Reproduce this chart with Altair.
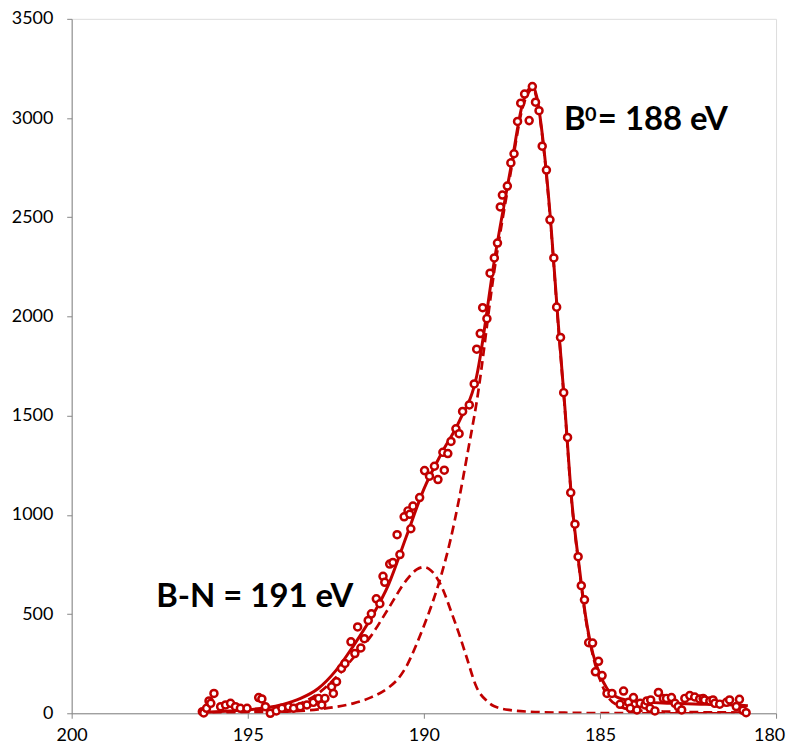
import altair as alt
import pandas as pd

# Measured spectrum (binding energy eV, counts)
pts_ev = [196.29, 196.25, 196.17, 196.10, 196.05, 195.96, 195.77, 195.63, 195.49, 195.35, 195.21, 195.02,
          194.69, 194.60, 194.50, 194.36, 194.19, 194.03, 193.84, 193.70, 193.51, 193.32, 193.14, 192.99,
          192.90, 192.81, 192.62, 192.57, 192.48, 192.34, 192.24, 192.07, 191.96, 191.88, 191.79, 191.69,
          191.58, 191.49, 191.35, 191.25, 191.16, 191.11, 190.97, 190.88, 190.76, 190.68, 190.56, 190.45,
          190.40, 190.37, 190.31, 190.12, 189.98, 189.84, 189.70, 189.60, 189.46, 189.42, 189.32, 189.23,
          189.09, 189.00, 188.90, 188.71, 188.57, 188.50, 188.40, 188.33, 188.21, 188.12, 188.00, 187.91,
          187.83, 187.77, 187.63, 187.53, 187.44, 187.34, 187.25, 187.14, 187.01, 186.92, 186.83, 186.73,
          186.64, 186.52, 186.42, 186.31, 186.23, 186.12, 186.03, 185.92, 185.83, 185.71, 185.62, 185.53,
          185.44, 185.32, 185.21, 185.13, 185.04, 184.94, 184.80, 184.66, 184.43, 184.33, 184.19, 184.14,
          184.05, 183.95, 183.86, 183.72, 183.67, 183.58, 183.56, 183.44, 183.34, 183.20, 183.11, 182.97,
          182.87, 182.78, 182.68, 182.59, 182.45, 182.31, 182.17, 182.07, 182.03, 181.88, 181.79, 181.74,
          181.60, 181.41, 181.32, 181.13, 181.04, 180.94, 180.85]
pts_counts = [8, 2, 25, 62, 50, 100, 33, 42, 50, 33, 25, 25,
              79, 72, 33, 0, 12, 25, 33, 25, 33, 42, 55, 75,
              42, 75, 134, 100, 159, 226, 251, 360, 301, 435, 329, 376,
              468, 501, 577, 552, 690, 660, 752, 760, 900, 800, 990, 1020,
              1003, 930, 1044, 1087, 1223, 1195, 1245, 1178, 1315, 1225, 1309, 1370,
              1434, 1409, 1521, 1554, 1660, 1835, 1914, 2044, 1989, 2218, 2295, 2370,
              2552, 2612, 2657, 2774, 2820, 2983, 3075, 3121, 2987, 3159, 3080, 3037,
              2858, 2738, 2487, 2295, 2047, 1894, 1616, 1390, 1112, 953, 789, 643,
              572, 356, 354, 209, 262, 190, 100, 100, 45, 112, 55, 25,
              79, 17, 50, 42, 62, 25, 67, 12, 105, 75, 75, 79,
              50, 34, 17, 75, 89, 82, 72, 75, 67, 62, 67, 50,
              46, 55, 67, 34, 70, 15, 3]

# Envelope fit (solid)
fit_ev = [196.2, 195.5, 195.0, 194.5, 194.0, 193.5, 193.0, 192.5, 192.0, 191.5, 191.0, 190.5, 190.0,
          189.5, 189.0, 188.5, 188.0, 187.5, 187.2, 187.0, 186.9, 186.8, 186.6, 186.4, 186.2, 186.0,
          185.8, 185.6, 185.4, 185.2, 185.0, 184.8, 184.5, 184.0, 183.0, 182.0, 181.0, 180.8]
fit_counts = [5, 12, 18, 28, 45, 75, 125, 215, 340, 480, 650, 890, 1130,
              1310, 1470, 1700, 2280, 2780, 3070, 3150, 3160, 3110, 2860, 2480, 2000, 1550,
              1070, 755, 480, 300, 195, 125, 80, 60, 50, 45, 40, 38]

# B-N component (dashed)
bn_ev = [196.0, 195.0, 194.5, 194.0, 193.5, 193.0, 192.5, 192.0, 191.5, 191.0, 190.5, 190.2, 190.0,
         189.8, 189.5, 189.2, 189.0, 188.8, 188.5, 188.2, 188.0, 187.5, 187.0, 186.0, 185.0, 183.0, 180.8]
bn_counts = [2, 8, 15, 25, 50, 100, 180, 280, 390, 530, 670, 725, 737,
             720, 640, 500, 400, 290, 130, 60, 35, 15, 8, 3, 1, 0, 0]

# B0 component (dashed)
b0_ev = [196.0, 195.0, 194.0, 193.5, 193.0, 192.5, 192.0, 191.5, 191.0, 190.75, 190.5, 190.25, 190.0,
         189.75, 189.5, 189.25, 189.0, 188.75, 188.5, 188.0, 187.5, 187.2, 187.0, 186.9, 186.8, 186.6,
         186.4, 186.2, 186.0, 185.8, 185.6, 185.4, 185.2, 185.0, 184.8, 184.5, 184.0, 183.0, 182.0,
         181.0, 180.8]
b0_counts = [0, 3, 8, 12, 20, 32, 50, 80, 130, 170, 235, 330, 440,
             560, 700, 870, 1080, 1320, 1570, 2230, 2760, 3050, 3135, 3150, 3100, 2850,
             2465, 1990, 1540, 1060, 745, 470, 290, 170, 90, 40, 15, 8, 5,
             4, 3]

RED = "#C00000"
FONT = "Lato"

pts = pd.DataFrame({"ev": pts_ev, "counts": pts_counts})
fit = pd.DataFrame({"ev": fit_ev, "counts": fit_counts})
bn = pd.DataFrame({"ev": bn_ev, "counts": bn_counts})
b0 = pd.DataFrame({"ev": b0_ev, "counts": b0_counts})

xscale = alt.Scale(domain=[180, 200], reverse=True, nice=False, zero=False)
yscale = alt.Scale(domain=[0, 3500], nice=False)

xaxis = alt.Axis(values=[200, 195, 190, 185, 180], title=None, grid=False, format="d",
                 domainColor="#868686", tickColor="#868686", tickSize=5, labelPadding=8,
                 labelFlush=False, labelOverlap=False,
                 labelOffset={"condition": {"test": "datum.value === 180", "value": -7}, "value": 0},
                 labelFont=FONT, labelFontSize=18, labelColor="#000000")
yaxis = alt.Axis(values=[0, 500, 1000, 1500, 2000, 2500, 3000, 3500], title=None, grid=False,
                 format="d", domainColor="#868686", tickColor="#868686", tickSize=5,
                 labelFlush=False, labelOverlap=False,
                 labelPadding=14, labelFont=FONT, labelFontSize=18, labelColor="#000000")

X = alt.X("ev:Q", scale=xscale, axis=xaxis)
Y = alt.Y("counts:Q", scale=yscale, axis=yaxis)

dashed = dict(color=RED, strokeWidth=2.7, strokeDash=[9, 5], interpolate="monotone", clip=True)

bn_line = alt.Chart(bn).mark_line(**dashed).encode(x=X, y=Y)
b0_line = alt.Chart(b0).mark_line(**dashed).encode(x=X, y=Y)
fit_line = alt.Chart(fit).mark_line(color=RED, strokeWidth=3, interpolate="monotone").encode(x=X, y=Y)
points = alt.Chart(pts).mark_point(shape="circle", filled=False, fill="white", fillOpacity=1,
                                   color=RED, stroke=RED, strokeWidth=2.5, size=50, opacity=1).encode(x=X, y=Y)

lbl_b = pd.DataFrame({"ev": [186.02], "counts": [2938], "t": ["B"]})
lbl_bn = pd.DataFrame({"ev": [197.6], "counts": [536], "t": ["B-N = 191 eV"]})

tstyle = dict(font=FONT, fontWeight="bold", color="#000000", align="left", baseline="alphabetic")
t_b = alt.Chart(lbl_b).mark_text(fontSize=33, **tstyle).encode(x=X, y=Y, text="t:N")
t_0 = alt.Chart(lbl_b).mark_text(fontSize=20, dx=21, dy=-9, **tstyle).encode(x=X, y=Y, text=alt.value("0"))
t_rest = alt.Chart(lbl_b).mark_text(fontSize=33, dx=34, **tstyle).encode(x=X, y=Y, text=alt.value("= 188 eV"))
t_bn = alt.Chart(lbl_bn).mark_text(fontSize=33, **tstyle).encode(x=X, y=Y, text="t:N")

chart = alt.layer(bn_line, b0_line, fit_line, points, t_b, t_0, t_rest, t_bn).properties(
    width=708, height=698,
    autosize=alt.AutoSizeParams(type="none"),
    padding={"left": 64, "top": 9, "right": 12, "bottom": 30},
).configure_view(stroke=None).configure(background="white")

chart.save("out.html", embed_options={"renderer": "svg", "actions": False})
